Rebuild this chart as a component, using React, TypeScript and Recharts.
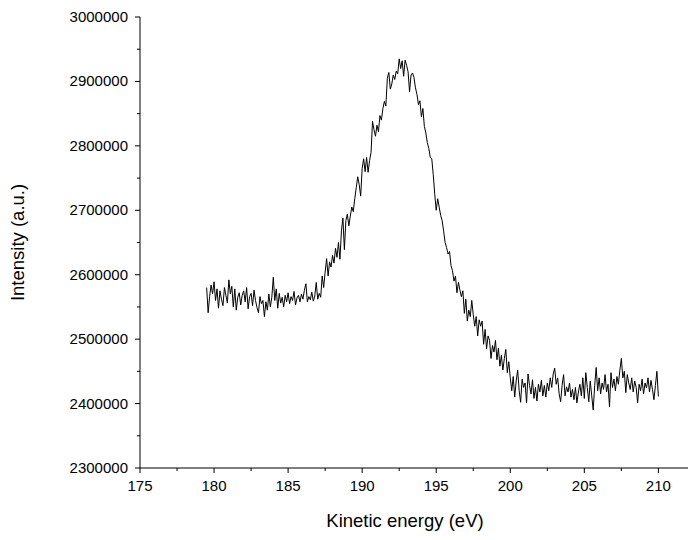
import React from "react";
import { LineChart, Line, XAxis, YAxis } from "recharts";

// scan starts at 179.5 eV, one reading every 0.1 eV
const START_EV = 179.5;
const STEP_EV = 0.1;

// intensity in thousands (a.u.)
const intensityK: number[] = [
  2580, 2541, 2566, 2584, 2570,
  2589, 2560, 2578, 2548, 2575, 2562, 2552, 2580, 2568, 2556, // 180
  2592, 2570, 2582, 2550, 2578, 2545, 2565, 2572, 2553, 2568, // 181
  2575, 2558, 2580, 2547, 2566, 2571, 2552, 2576, 2560, 2549, // 182
  2541, 2566, 2555, 2560, 2535, 2558, 2545, 2570, 2550, 2565, // 183
  2596, 2560, 2578, 2548, 2571, 2556, 2565, 2550, 2568, 2558, // 184
  2572, 2555, 2566, 2560, 2574, 2553, 2564, 2568, 2558, 2570, // 185
  2562, 2576, 2586, 2558, 2566, 2561, 2573, 2559, 2567, 2588, // 186
  2562, 2571, 2565, 2598, 2580, 2604, 2625, 2598, 2620, 2612, // 187
  2630, 2618, 2641, 2627, 2650, 2624, 2668, 2688, 2639, 2684, // 188
  2694, 2676, 2691, 2705, 2698, 2718, 2735, 2752, 2740, 2722, // 189
  2765, 2780, 2760, 2782, 2759, 2777, 2790, 2838, 2825, 2815, // 190
  2832, 2822, 2847, 2840, 2858, 2869, 2862, 2905, 2914, 2888, // 191
  2896, 2910, 2903, 2916, 2912, 2935, 2920, 2932, 2908, 2933, // 192
  2925, 2915, 2884, 2910, 2913, 2906, 2890, 2880, 2864, 2870, // 193
  2845, 2858, 2830, 2820, 2805, 2796, 2782, 2780, 2755, 2725, // 194
  2700, 2718, 2705, 2692, 2684, 2668, 2650, 2642, 2632, 2636, // 195
  2614, 2606, 2590, 2598, 2572, 2588, 2576, 2566, 2575, 2540, // 196
  2562, 2528, 2545, 2535, 2560, 2538, 2520, 2535, 2505, 2530, // 197
  2520, 2528, 2492, 2515, 2485, 2505, 2498, 2470, 2490, 2480, // 198
  2498, 2468, 2486, 2458, 2475, 2452, 2470, 2484, 2448, 2465, // 199
  2440, 2420, 2442, 2410, 2435, 2452, 2420, 2402, 2438, 2425, // 200
  2432, 2401, 2446, 2428, 2415, 2437, 2408, 2425, 2404, 2430, // 201
  2418, 2436, 2412, 2428, 2410, 2432, 2420, 2440, 2425, 2446, // 202
  2455, 2430, 2440, 2415, 2403, 2428, 2445, 2412, 2426, 2418, // 203
  2432, 2410, 2422, 2406, 2425, 2401, 2418, 2430, 2412, 2440, // 204
  2408, 2448, 2425, 2403, 2435, 2412, 2390, 2428, 2456, 2420, // 205
  2440, 2415, 2432, 2422, 2445, 2418, 2430, 2395, 2448, 2425, // 206
  2438, 2420, 2442, 2430, 2452, 2470, 2440, 2450, 2417, 2445, // 207
  2432, 2422, 2440, 2418, 2435, 2425, 2401, 2430, 2420, 2438, // 208
  2415, 2432, 2424, 2440, 2418, 2436, 2422, 2406, 2428, 2450, // 209
  2411,
];

const energyTicks = [175, 177.5, 180, 182.5, 185, 187.5, 190, 192.5, 195, 197.5, 200, 202.5, 205, 207.5, 210];
const intensityTicks = [
  2300000, 2350000, 2400000, 2450000, 2500000, 2550000, 2600000, 2650000,
  2700000, 2750000, 2800000, 2850000, 2900000, 2950000, 3000000,
];

const data = intensityK.map((v, i) => ({
  energy: +(START_EV + i * STEP_EV).toFixed(1),
  intensity: v * 1000,
}));

const FONT = "'Liberation Sans', Arial, sans-serif";

const XTick = ({ x, y, payload }: any) => {
  const major = payload.value % 5 === 0;
  return (
    <g>
      <line x1={x} y1={y} x2={x} y2={y + (major ? 5 : 3)} stroke="#000" />
      {major && (
        <text x={x} y={y + 23} textAnchor="middle" fontSize={15} fontFamily={FONT} fill="#000">
          {payload.value}
        </text>
      )}
    </g>
  );
};

const YTick = ({ x, y, payload }: any) => {
  const major = payload.value % 100000 === 0;
  return (
    <g>
      <line x1={x} y1={y} x2={x - (major ? 5 : 3)} y2={y} stroke="#000" />
      {major && (
        <text x={x - 12} y={y + 5} textAnchor="end" fontSize={15} fontFamily={FONT} fill="#000">
          {payload.value}
        </text>
      )}
    </g>
  );
};

const XTitle = ({ viewBox }: any) => (
  <text
    x={viewBox.x + viewBox.width / 2 - 9}
    y={viewBox.y + 59}
    textAnchor="middle"
    fontSize={18.5}
    fontFamily={FONT}
    fill="#000"
  >
    Kinetic energy (eV)
  </text>
);

const YTitle = ({ viewBox }: any) => {
  const cx = viewBox.x + 24;
  const cy = viewBox.y + viewBox.height / 2;
  return (
    <text
      x={cx}
      y={cy}
      transform={`rotate(-90, ${cx}, ${cy})`}
      textAnchor="middle"
      fontSize={18.5}
      fontFamily={FONT}
      fill="#000"
    >
      Intensity (a.u.)
    </text>
  );
};

export default function App() {
  return (
    <div style={{ position: "fixed", left: 0, top: 0, background: "#fff" }}>
      <LineChart
        width={688}
        height={540}
        data={data}
        margin={{ top: 17, right: 0, left: 0, bottom: 0 }}
        style={{ fontFamily: FONT }}
      >
        <XAxis
          dataKey="energy"
          type="number"
          domain={[175, 212]}
          ticks={energyTicks}
          interval={0}
          allowDataOverflow
          height={72}
          tickSize={0}
          tickMargin={0}
          tickLine={false}
          axisLine={{ stroke: "#000", strokeWidth: 1 }}
          tick={<XTick />}
          label={<XTitle />}
        />
        <YAxis
          type="number"
          domain={[2300000, 3000000]}
          ticks={intensityTicks}
          interval={0}
          allowDataOverflow
          width={140}
          tickSize={0}
          tickMargin={0}
          tickLine={false}
          axisLine={{ stroke: "#000", strokeWidth: 1 }}
          tick={<YTick />}
          label={<YTitle />}
        />
        <Line
          type="linear"
          dataKey="intensity"
          stroke="#000"
          strokeWidth={1}
          dot={false}
          isAnimationActive={false}
        />
      </LineChart>
    </div>
  );
}
